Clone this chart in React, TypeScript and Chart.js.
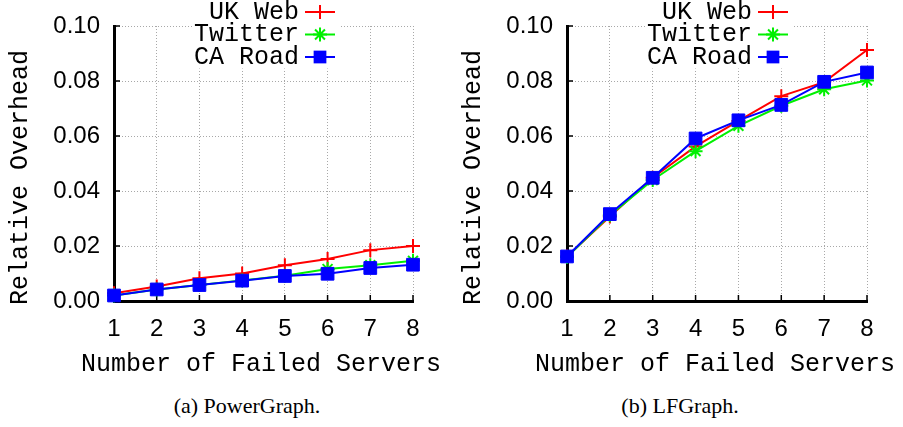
import React, { useEffect, useRef } from 'react';
import { Chart, registerables } from 'chart.js';

Chart.register(...registerables);

// ---------- data ----------
const xLabels = ['1', '2', '3', '4', '5', '6', '7', '8'];
const seriesNames = ['UK Web', 'Twitter', 'CA Road'];

const pgUkWeb = [0.0028, 0.0053, 0.0083, 0.01, 0.013, 0.0153, 0.0185, 0.02];
const pgTwitter = [0.002, 0.0042, 0.0058, 0.0075, 0.0092, 0.0116, 0.013, 0.0146];
const pgCaRoad = [0.002, 0.0042, 0.0058, 0.0074, 0.0091, 0.0099, 0.012, 0.0132];

const lfUkWeb = [0.0162, 0.0307, 0.0448, 0.0562, 0.0655, 0.0745, 0.0796, 0.0913];
const lfTwitter = [0.016, 0.0312, 0.044, 0.0545, 0.0637, 0.071, 0.077, 0.0802];
const lfCaRoad = [0.0162, 0.0316, 0.0448, 0.0591, 0.0657, 0.0713, 0.0797, 0.0831];

const yMin = 0;
const yMax = 0.1;
const yStep = 0.02;

const xTitle = 'Number of Failed Servers';
const yTitle = 'Relative Overhead';
const captions = ['(a) PowerGraph.', '(b) LFGraph.'];

// ---------- styles ----------
const COLORS = ['#ff0000', '#00f000', '#0000ff'];
const STYLES = ['cross', 'star', 'rect'];
const RADII = [7, 7, 9];
const MONO = '"Liberation Mono", "Courier New", monospace';
const SANS = '"Liberation Sans", Arial, Helvetica, sans-serif';

function drawMarker(ctx: CanvasRenderingContext2D, style: string, x: number, y: number, r: number, color: string) {
  ctx.save();
  ctx.strokeStyle = color;
  ctx.fillStyle = color;
  ctx.lineWidth = 2;
  ctx.beginPath();
  if (style === 'cross' || style === 'star') {
    ctx.moveTo(x - r, y);
    ctx.lineTo(x + r, y);
    ctx.moveTo(x, y - r);
    ctx.lineTo(x, y + r);
    if (style === 'star') {
      const d = r * Math.SQRT1_2;
      ctx.moveTo(x - d, y - d);
      ctx.lineTo(x + d, y + d);
      ctx.moveTo(x - d, y + d);
      ctx.lineTo(x + d, y - d);
    }
    ctx.stroke();
  } else {
    const s = r * Math.SQRT1_2;
    ctx.fillRect(x - s, y - s, 2 * s, 2 * s);
  }
  ctx.restore();
}

const overlayPlugin = {
  id: 'overlay',
  beforeDatasetsDraw(chart: any) {
    const { ctx, chartArea } = chart;
    const xs = chart.scales.x;
    const ys = chart.scales.y;
    ctx.save();
    ctx.strokeStyle = '#000';
    ctx.lineWidth = 1.5;
    ctx.beginPath();
    xs.ticks.forEach((_t: any, i: number) => {
      const px = xs.getPixelForTick(i);
      ctx.moveTo(px, chartArea.bottom);
      ctx.lineTo(px, chartArea.bottom - 6);
    });
    ys.ticks.forEach((_t: any, i: number) => {
      const py = ys.getPixelForTick(i);
      ctx.moveTo(chartArea.left, py);
      ctx.lineTo(chartArea.left + 6, py);
    });
    ctx.stroke();
    ctx.restore();
  },
  afterDraw(chart: any, _args: any, opts: any) {
    const { ctx } = chart;
    ctx.save();
    ctx.font = `25px ${MONO}`;
    ctx.fillStyle = '#000';
    ctx.textAlign = 'center';
    ctx.textBaseline = 'middle';
    // x-axis title
    ctx.fillText(xTitle, opts.xTitleX, opts.xTitleY);
    // y-axis title
    ctx.translate(opts.yTitleX, opts.yTitleY);
    ctx.rotate(-Math.PI / 2);
    ctx.fillText(yTitle, 0, 0);
    ctx.restore();

    // legend (gnuplot style: text right aligned, sample to its right)
    const rows = [12, 34.5, 57];
    ctx.save();
    ctx.font = `25px ${MONO}`;
    ctx.textAlign = 'right';
    ctx.textBaseline = 'middle';
    chart.data.datasets.forEach((ds: any, i: number) => {
      const y = rows[i];
      const w = ctx.measureText(ds.label).width;
      ctx.fillStyle = '#fff';
      ctx.fillRect(opts.legendX - w - 2, y - 11.5, w + 42, 23);
      ctx.fillStyle = '#000';
      ctx.fillText(ds.label, opts.legendX, y);
      ctx.strokeStyle = ds.borderColor;
      ctx.lineWidth = 2;
      ctx.beginPath();
      ctx.moveTo(opts.legendX + 6, y);
      ctx.lineTo(opts.legendX + 36, y);
      ctx.stroke();
      drawMarker(ctx, STYLES[i], opts.legendX + 21, y, RADII[i], ds.borderColor);
    });
    ctx.restore();
  },
};

function makeConfig(series: number[][], yWidth: number, rightPad: number, legendX: number, yTitleX: number, xTitleX: number): any {
  return {
    type: 'line',
    data: {
      labels: xLabels,
      datasets: series.map((vals, i) => ({
        label: seriesNames[i],
        data: vals,
        borderColor: COLORS[i],
        backgroundColor: COLORS[i],
        borderWidth: 2,
        pointStyle: STYLES[i],
        pointRadius: RADII[i],
        pointBorderWidth: STYLES[i] === 'rect' ? 1 : 2,
        pointBackgroundColor: COLORS[i],
        pointBorderColor: COLORS[i],
        tension: 0,
        fill: false,
        clip: false,
        order: 3 - i,
      })),
    },
    options: {
      animation: false,
      responsive: false,
      layout: { padding: { top: 14, right: rightPad, bottom: 0, left: 0 } },
      plugins: {
        legend: { display: false },
        tooltip: { enabled: false },
        overlay: { legendX, yTitleX, yTitleY: 177.5, xTitleX, xTitleY: 364 },
      },
      scales: {
        x: {
          type: 'category',
          offset: false,
          grid: { color: '#a8a8a8', lineWidth: 1, drawTicks: false, offset: false },
          border: { display: true, color: '#000', width: 3, dash: [1, 2] },
          ticks: {
            color: '#000',
            font: { family: SANS, size: 24 },
            padding: 14,
            autoSkip: false,
            maxRotation: 0,
          },
          afterFit: (axis: any) => {
            axis.height = 84;
          },
        },
        y: {
          type: 'linear',
          min: yMin,
          max: yMax,
          grid: { color: '#a8a8a8', lineWidth: 1, drawTicks: false },
          border: { display: true, color: '#000', width: 3, dash: [1, 2] },
          ticks: {
            stepSize: yStep,
            color: '#000',
            font: { family: SANS, size: 24, lineHeight: 1 },
            padding: 14,
            callback: (v: any) => Number(v).toFixed(2),
          },
          afterFit: (axis: any) => {
            axis.width = yWidth;
          },
        },
      },
    },
    plugins: [overlayPlugin],
  };
}

export default function App() {
  const ref1 = useRef<HTMLCanvasElement>(null);
  const ref2 = useRef<HTMLCanvasElement>(null);

  useEffect(() => {
    const c1 = new Chart(ref1.current!, makeConfig([pgUkWeb, pgTwitter, pgCaRoad], 114, 38, 299, 20, 261));
    const c2 = new Chart(ref2.current!, makeConfig([lfUkWeb, lfTwitter, lfCaRoad], 115, 36, 300, 21, 263));
    return () => {
      c1.destroy();
      c2.destroy();
    };
  }, []);

  const capStyle: React.CSSProperties = {
    position: 'absolute',
    top: 395,
    width: 300,
    textAlign: 'center',
    fontFamily: '"Liberation Serif", "Times New Roman", serif',
    fontSize: 22,
    lineHeight: '22px',
    color: '#000',
    whiteSpace: 'nowrap',
  };

  return (
    <div style={{ position: 'absolute', left: 0, top: 0, width: 903, height: 427, background: '#fff', overflow: 'hidden' }}>
      <canvas ref={ref1} width={451} height={385} style={{ position: 'absolute', left: 0, top: 0 }} />
      <canvas ref={ref2} width={451} height={385} style={{ position: 'absolute', left: 452, top: 0 }} />
      <div style={{ ...capStyle, left: 247 - 150 }}>{captions[0]}</div>
      <div style={{ ...capStyle, left: 680 - 150 }}>{captions[1]}</div>
    </div>
  );
}
